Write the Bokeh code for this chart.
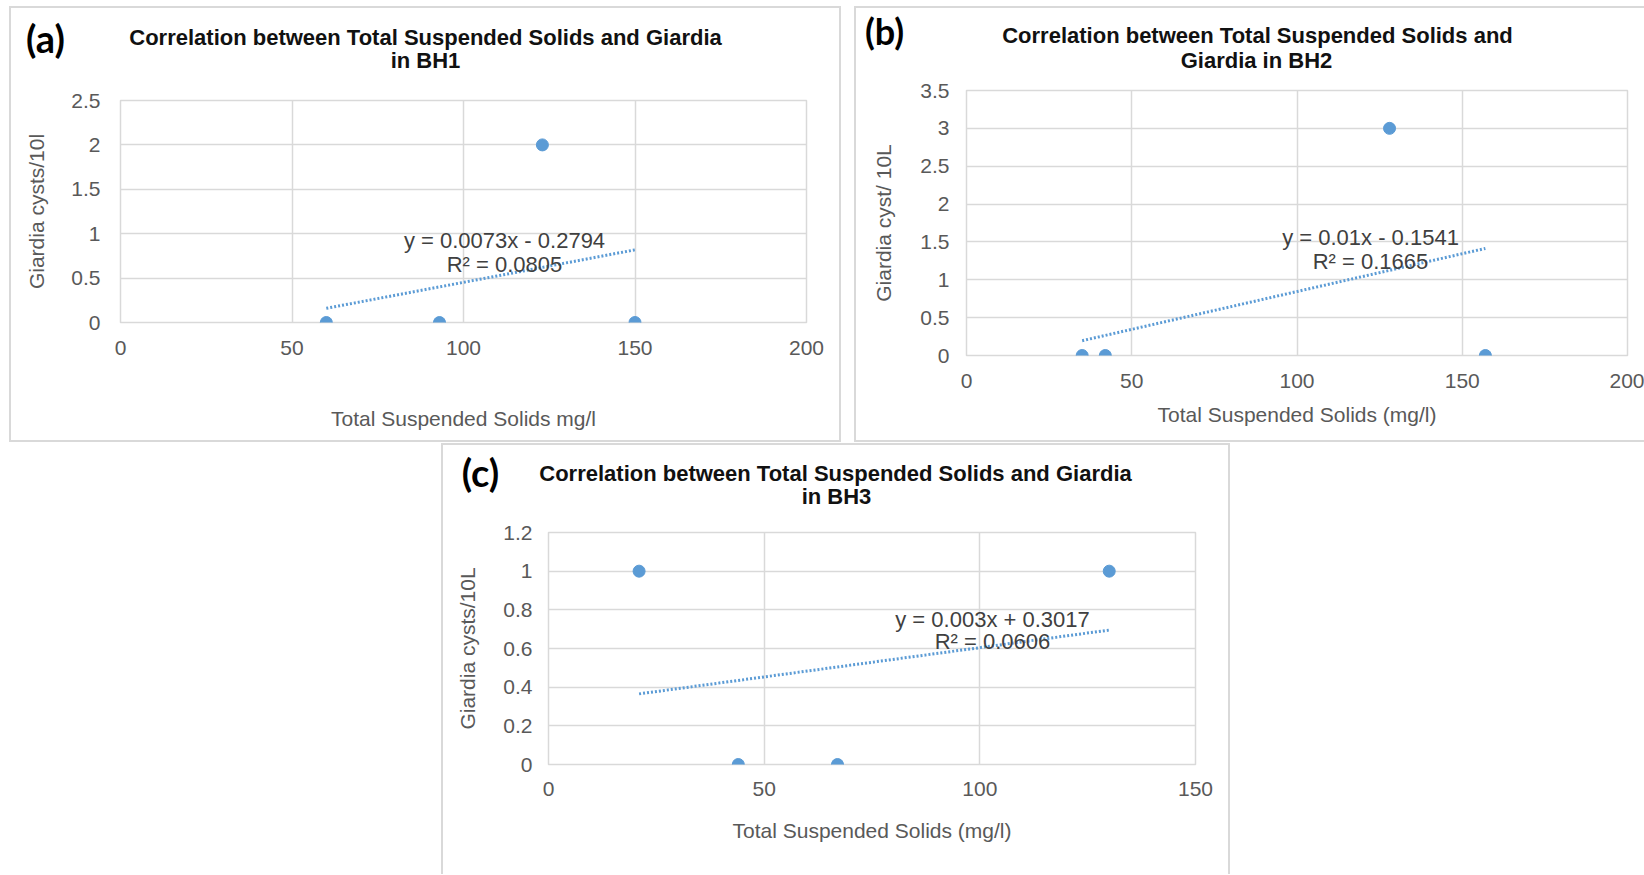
import numpy as np
from bokeh.plotting import figure
from bokeh.models import Label, FixedTicker, NumeralTickFormatter, Spacer, Range1d
from bokeh.layouts import row, column
from bokeh.embed import file_html
from bokeh.resources import INLINE

# ---------------- data ----------------
bh1_tss = [60, 93, 123, 150]
bh1_giardia = [0, 0, 2, 0]
bh2_tss = [35, 42, 128, 157]
bh2_giardia = [0, 0, 3, 0]
bh3_tss = [21, 44, 67, 130]
bh3_giardia = [1, 0, 0, 1]

x_ticks_ab = [0, 50, 100, 150, 200]
x_ticks_c = [0, 50, 100, 150]
y_ticks_a = [0, 0.5, 1, 1.5, 2, 2.5]
y_ticks_b = [0, 0.5, 1, 1.5, 2, 2.5, 3, 3.5]
y_ticks_c = [0, 0.2, 0.4, 0.6, 0.8, 1, 1.2]

title_a = ["Correlation between Total Suspended Solids and Giardia", "in BH1"]
title_b = ["Correlation between Total Suspended Solids and", "Giardia in BH2"]
title_c = ["Correlation between Total Suspended Solids and Giardia", "in BH3"]
eq_a = ["y = 0.0073x - 0.2794", "R² = 0.0805"]
eq_b = ["y = 0.01x - 0.1541", "R² = 0.1665"]
eq_c = ["y = 0.003x + 0.3017", "R² = 0.0606"]

BLUE = "#5b9bd5"
GRID = "#d9d9d9"
FONT = "Liberation Sans"
B = "2px solid #d9d9d9"


def header(width, height, title, letter, title_pos, letter_pos, letter_size, css):
    """Top strip of a panel: panel letter and the two-line chart title."""
    h = figure(width=width, height=height, output_backend="svg", toolbar_location=None,
               title=None, x_axis_type=None, y_axis_type=None,
               x_range=Range1d(0, 1), y_range=Range1d(0, 1), min_border=0)
    h.frame_align = False
    h.outline_line_color = None
    h.grid.visible = False
    h.styles = css
    h.add_layout(Label(x=letter_pos[0], y=letter_pos[1], x_units="screen", y_units="screen",
                       text=letter, text_align="center", text_baseline="middle",
                       text_font="Lato", text_font_style="bold",
                       text_font_size=letter_size, text_color="#000000"))
    for txt, (x, y) in zip(title, title_pos):
        h.add_layout(Label(x=x, y=y, x_units="screen", y_units="screen", text=txt,
                           text_align="center", text_baseline="middle",
                           text_font=FONT, text_font_style="bold",
                           text_font_size="22px", text_color="#111111"))
    return h


def chart(xs, ys, xr, yr, xt, yt, xlabel, ylabel, eq,
          width, height, bl, br, bt, bb, eq_pos,
          xl_stand, yl_stand, xt_stand, yt_stand, css):
    p = figure(width=width, height=height, output_backend="svg",
               toolbar_location=None, title=None,
               x_range=Range1d(*xr), y_range=Range1d(*yr),
               min_border_left=bl, min_border_right=br,
               min_border_top=bt, min_border_bottom=bb)
    p.frame_align = False
    p.styles = css
    p.outline_line_color = GRID
    p.outline_line_width = 1.5
    for ax, ticks in ((p.xaxis[0], xt), (p.yaxis[0], yt)):
        ax.ticker = FixedTicker(ticks=ticks)
        ax.formatter = NumeralTickFormatter(format="0.[0]")
        ax.axis_line_color = None
        ax.major_tick_line_color = None
        ax.minor_tick_line_color = None
        ax.major_tick_out = 0
        ax.major_label_text_font = FONT
        ax.major_label_text_font_size = "21px"
        ax.major_label_text_color = "#595959"
        ax.axis_label_text_font = FONT
        ax.axis_label_text_font_size = "21px"
        ax.axis_label_text_font_style = "normal"
        ax.axis_label_text_color = "#595959"
    p.xaxis[0].axis_label = xlabel
    p.yaxis[0].axis_label = ylabel
    p.xaxis[0].axis_label_standoff = xl_stand
    p.yaxis[0].axis_label_standoff = yl_stand
    p.xaxis[0].major_label_standoff = xt_stand
    p.yaxis[0].major_label_standoff = yt_stand
    p.xgrid.grid_line_color = GRID
    p.ygrid.grid_line_color = GRID
    p.xgrid.grid_line_width = 1.5
    p.ygrid.grid_line_width = 1.5

    # linear trendline (least squares over the data)
    slope, icpt = np.polyfit(xs, ys, 1)
    tx = np.array([min(xs), max(xs)])
    p.line(tx, slope * tx + icpt, line_color=BLUE, line_width=3, line_dash="2 2")
    p.scatter(xs, ys, size=12, color=BLUE)

    for txt, (x, y) in zip(eq, eq_pos):
        p.add_layout(Label(x=x, y=y, x_units="screen", y_units="screen", text=txt,
                           text_align="center", text_baseline="middle",
                           text_font=FONT, text_font_size="22px",
                           text_color="#404040"))
    return p


css = lambda *sides: dict({f"border-{s}": B for s in sides}, **{"box-sizing": "border-box"})

# ---- panel (a) ----
ha = header(832, 66, title_a, "(a)", [(414, 37), (414, 14)], (34, 37), "38px",
            css("left", "top", "right"))
ma = chart(bh1_tss, bh1_giardia, (0, 200), (0, 2.5), x_ticks_ab, y_ticks_a,
           "Total Suspended Solids mg/l", "Giardia cysts/10l", eq_a,
           832, 370, 109, 37, 28, 120, [(384, 82), (384, 58)],
           49, 20, 18, 20, css("left", "right", "bottom"))

# ---- panel (b) ----
hb = header(790, 66, title_b, "(b)", [(401, 39), (400, 14)], (28, 44), "36px",
            css("left", "top"))
mb = chart(bh2_tss, bh2_giardia, (0, 200), (0, 3.5), x_ticks_ab, y_ticks_b,
           "Total Suspended Solids (mg/l)", "Giardia cyst/ 10L", eq_b,
           790, 370, 110, 19, 18, 87, [(404, 118), (404, 94)],
           12, 22, 18, 17, css("left", "bottom"))

# ---- panel (c) ----
hc = header(789, 66, title_c, "(c)", [(392, 38), (393, 15)], (37, 40), "38px",
            css("left", "top", "right"))
mc = chart(bh3_tss, bh3_giardia, (0, 150), (0, 1.2), x_ticks_c, y_ticks_c,
           "Total Suspended Solids (mg/l)", "Giardia cysts/10L", eq_c,
           789, 365, 105, 37, 23, 110, [(444, 145), (444, 123)],
           20, 21, 17, 16, css("left", "right"))

layout = column(Spacer(width=10, height=6),
                row(Spacer(width=9, height=436), column(ha, ma),
                    Spacer(width=13, height=436), column(hb, mb)),
                Spacer(width=10, height=1),
                row(Spacer(width=441, height=431), column(hc, mc)))

open("out.html", "w").write(file_html(layout, INLINE))
